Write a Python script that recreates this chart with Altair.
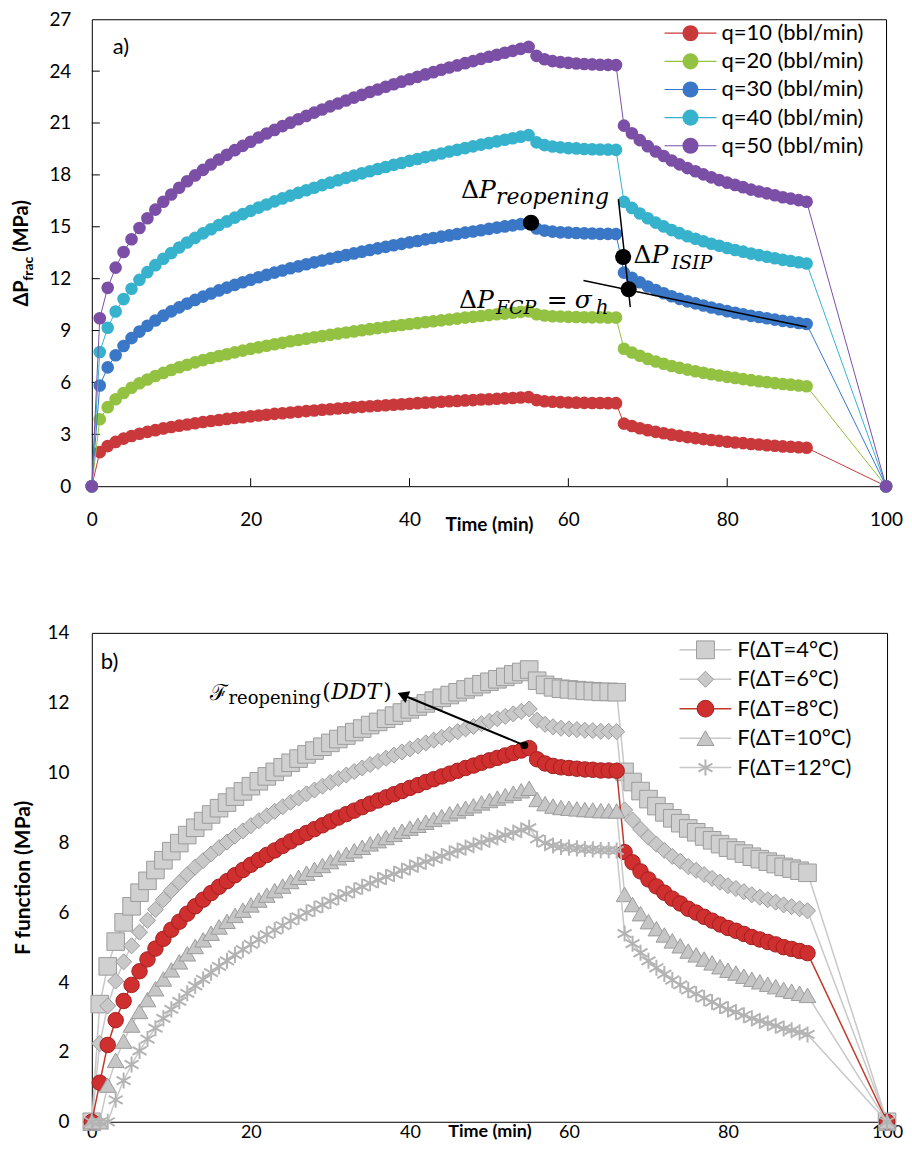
import altair as alt
import pandas as pd

# ---------------- data ----------------
TIME = [0] + list(range(1, 91)) + [100]

Q_LABELS = ["q=10 (bbl/min)", "q=20 (bbl/min)", "q=30 (bbl/min)", "q=40 (bbl/min)", "q=50 (bbl/min)"]
Q_COLORS = ["#c9393b", "#93c141", "#3a77c6", "#36b2cc", "#7b4fa6"]

DP_Q10 = [0,
    1.97, 2.32, 2.56, 2.75, 2.90, 3.03, 3.14, 3.24, 3.34, 3.42,
    3.50, 3.57, 3.64, 3.71, 3.77, 3.83, 3.89, 3.94, 3.99, 4.04,
    4.09, 4.13, 4.18, 4.22, 4.26, 4.30, 4.34, 4.38, 4.42, 4.45,
    4.49, 4.52, 4.56, 4.59, 4.62, 4.65, 4.68, 4.71, 4.74, 4.77,
    4.80, 4.83, 4.85, 4.88, 4.91, 4.93, 4.96, 4.98, 5.01, 5.03,
    5.06, 5.08, 5.10, 5.13, 5.15,
    4.98, 4.91, 4.88, 4.86, 4.84, 4.83, 4.82, 4.81, 4.81, 4.80, 4.80,
    3.62, 3.48, 3.35, 3.24, 3.14, 3.06, 2.98, 2.91, 2.84, 2.78, 2.72, 2.67,
    2.62, 2.57, 2.53, 2.49, 2.44, 2.41, 2.37, 2.34, 2.30, 2.28, 2.25, 2.22,
    0]
DP_Q20 = [0,
    3.87, 4.57, 5.03, 5.39, 5.69, 5.95, 6.17, 6.37, 6.55, 6.72,
    6.88, 7.02, 7.16, 7.29, 7.41, 7.53, 7.63, 7.74, 7.84, 7.94,
    8.03, 8.12, 8.21, 8.29, 8.38, 8.45, 8.53, 8.61, 8.68, 8.75,
    8.82, 8.89, 8.95, 9.02, 9.08, 9.14, 9.20, 9.26, 9.32, 9.38,
    9.43, 9.49, 9.54, 9.59, 9.64, 9.69, 9.75, 9.79, 9.84, 9.89,
    9.94, 9.98, 10.03, 10.08, 10.12,
    9.94, 9.87, 9.83, 9.81, 9.79, 9.78, 9.77, 9.76, 9.76, 9.75, 9.75,
    7.95, 7.73, 7.54, 7.36, 7.21, 7.08, 6.95, 6.84, 6.74, 6.65, 6.56, 6.47,
    6.40, 6.32, 6.26, 6.19, 6.13, 6.07, 6.02, 5.96, 5.91, 5.87, 5.82, 5.78,
    0]
DP_Q30 = [0,
    5.82, 6.87, 7.57, 8.11, 8.56, 8.94, 9.28, 9.58, 9.86, 10.11,
    10.34, 10.56, 10.77, 10.96, 11.14, 11.32, 11.48, 11.64, 11.79, 11.94,
    12.08, 12.22, 12.35, 12.47, 12.60, 12.71, 12.83, 12.94, 13.05, 13.16,
    13.26, 13.36, 13.46, 13.56, 13.66, 13.75, 13.84, 13.93, 14.01, 14.10,
    14.18, 14.27, 14.35, 14.43, 14.50, 14.58, 14.66, 14.73, 14.80, 14.88,
    14.95, 15.02, 15.08, 15.15, 15.22,
    14.90, 14.78, 14.72, 14.68, 14.66, 14.64, 14.62, 14.61, 14.59, 14.59, 14.58,
    12.35, 12.05, 11.79, 11.55, 11.34, 11.16, 10.98, 10.83, 10.69, 10.57, 10.45, 10.33,
    10.23, 10.12, 10.03, 9.94, 9.85, 9.78, 9.71, 9.63, 9.56, 9.50, 9.44, 9.38,
    0]
DP_Q40 = [0,
    7.76, 9.16, 10.10, 10.82, 11.42, 11.93, 12.38, 12.78, 13.15, 13.48,
    13.80, 14.09, 14.36, 14.62, 14.86, 15.10, 15.31, 15.53, 15.73, 15.92,
    16.11, 16.29, 16.47, 16.64, 16.80, 16.96, 17.11, 17.26, 17.41, 17.55,
    17.69, 17.83, 17.96, 18.09, 18.21, 18.34, 18.46, 18.58, 18.69, 18.81,
    18.92, 19.03, 19.13, 19.24, 19.35, 19.45, 19.55, 19.65, 19.75, 19.84,
    19.94, 20.03, 20.12, 20.21, 20.30,
    19.88, 19.72, 19.64, 19.59, 19.55, 19.53, 19.50, 19.48, 19.47, 19.46, 19.45,
    16.45, 16.09, 15.77, 15.49, 15.24, 15.02, 14.81, 14.63, 14.45, 14.31, 14.16, 14.02,
    13.90, 13.77, 13.66, 13.56, 13.45, 13.36, 13.27, 13.18, 13.09, 13.02, 12.95, 12.88,
    0]
DP_Q50 = [0,
    9.71, 11.47, 12.64, 13.54, 14.28, 14.93, 15.49, 15.99, 16.45, 16.87,
    17.26, 17.63, 17.97, 18.29, 18.60, 18.89, 19.16, 19.43, 19.68, 19.92,
    20.16, 20.39, 20.60, 20.82, 21.02, 21.22, 21.41, 21.60, 21.78, 21.96,
    22.13, 22.30, 22.47, 22.63, 22.79, 22.94, 23.10, 23.24, 23.39, 23.53,
    23.67, 23.81, 23.94, 24.08, 24.21, 24.33, 24.46, 24.58, 24.71, 24.83,
    24.95, 25.06, 25.17, 25.29, 25.40,
    24.88, 24.69, 24.58, 24.52, 24.48, 24.44, 24.41, 24.39, 24.37, 24.36, 24.35,
    20.85, 20.41, 20.01, 19.66, 19.35, 19.09, 18.83, 18.61, 18.39, 18.21, 18.03, 17.86,
    17.70, 17.55, 17.42, 17.29, 17.15, 17.04, 16.93, 16.82, 16.71, 16.63, 16.54, 16.45,
    0]
DP_SERIES = [DP_Q10, DP_Q20, DP_Q30, DP_Q40, DP_Q50]

F_LABELS = ["F(ΔT=4°C)", "F(ΔT=6°C)", "F(ΔT=8°C)", "F(ΔT=10°C)", "F(ΔT=12°C)"]
F_DT4 = [0,
    3.37, 4.45, 5.16, 5.71, 6.17, 6.56, 6.90, 7.21, 7.49, 7.75,
    7.98, 8.21, 8.42, 8.61, 8.80, 8.98, 9.14, 9.31, 9.46, 9.61,
    9.75, 9.89, 10.02, 10.15, 10.28, 10.40, 10.52, 10.63, 10.74, 10.85,
    10.96, 11.06, 11.16, 11.26, 11.36, 11.45, 11.54, 11.63, 11.72, 11.81,
    11.89, 11.98, 12.06, 12.14, 12.22, 12.30, 12.38, 12.45, 12.53, 12.60,
    12.67, 12.74, 12.81, 12.88, 12.95,
    12.63, 12.51, 12.44, 12.40, 12.38, 12.36, 12.34, 12.33, 12.31, 12.31, 12.30,
    10.02, 9.73, 9.47, 9.24, 9.04, 8.86, 8.69, 8.55, 8.40, 8.29, 8.17, 8.06,
    7.95, 7.85, 7.77, 7.68, 7.59, 7.52, 7.45, 7.38, 7.30, 7.25, 7.19, 7.13,
    0]
F_DT6 = [0,
    2.24, 3.32, 4.03, 4.58, 5.04, 5.43, 5.77, 6.08, 6.36, 6.62,
    6.85, 7.08, 7.29, 7.48, 7.67, 7.85, 8.01, 8.18, 8.33, 8.48,
    8.62, 8.76, 8.89, 9.02, 9.15, 9.27, 9.39, 9.50, 9.61, 9.72,
    9.83, 9.93, 10.03, 10.13, 10.23, 10.32, 10.41, 10.50, 10.59, 10.68,
    10.76, 10.85, 10.93, 11.01, 11.09, 11.17, 11.25, 11.32, 11.40, 11.47,
    11.54, 11.61, 11.68, 11.75, 11.82,
    11.50, 11.38, 11.31, 11.27, 11.25, 11.23, 11.21, 11.20, 11.18, 11.18, 11.17,
    8.93, 8.64, 8.38, 8.15, 7.95, 7.77, 7.60, 7.46, 7.31, 7.20, 7.08, 6.97,
    6.86, 6.76, 6.68, 6.59, 6.50, 6.43, 6.36, 6.29, 6.21, 6.16, 6.10, 6.04,
    0]
F_DT8 = [0,
    1.12, 2.20, 2.91, 3.46, 3.92, 4.31, 4.65, 4.96, 5.24, 5.50,
    5.73, 5.96, 6.17, 6.36, 6.55, 6.73, 6.89, 7.06, 7.21, 7.36,
    7.50, 7.64, 7.77, 7.90, 8.03, 8.15, 8.27, 8.38, 8.49, 8.60,
    8.71, 8.81, 8.91, 9.01, 9.11, 9.20, 9.29, 9.38, 9.47, 9.56,
    9.64, 9.73, 9.81, 9.89, 9.97, 10.05, 10.13, 10.20, 10.28, 10.35,
    10.42, 10.49, 10.56, 10.63, 10.70,
    10.38, 10.26, 10.19, 10.15, 10.13, 10.11, 10.09, 10.08, 10.06, 10.06, 10.05,
    7.72, 7.43, 7.17, 6.94, 6.74, 6.56, 6.39, 6.25, 6.10, 5.99, 5.87, 5.76,
    5.65, 5.55, 5.47, 5.38, 5.29, 5.22, 5.15, 5.08, 5.00, 4.95, 4.89, 4.83,
    0]
F_DT10 = [0,
    0.00, 1.05, 1.76, 2.31, 2.77, 3.16, 3.50, 3.81, 4.09, 4.35,
    4.58, 4.81, 5.02, 5.21, 5.40, 5.58, 5.74, 5.91, 6.06, 6.21,
    6.35, 6.49, 6.62, 6.75, 6.88, 7.00, 7.12, 7.23, 7.34, 7.45,
    7.56, 7.66, 7.76, 7.86, 7.96, 8.05, 8.14, 8.23, 8.32, 8.41,
    8.49, 8.58, 8.66, 8.74, 8.82, 8.90, 8.98, 9.05, 9.13, 9.20,
    9.27, 9.34, 9.41, 9.48, 9.55,
    9.23, 9.11, 9.04, 9.00, 8.98, 8.96, 8.94, 8.93, 8.91, 8.91, 8.90,
    6.51, 6.22, 5.96, 5.73, 5.53, 5.35, 5.18, 5.04, 4.89, 4.78, 4.66, 4.55,
    4.44, 4.34, 4.26, 4.17, 4.08, 4.01, 3.94, 3.87, 3.79, 3.74, 3.68, 3.62,
    0]
F_DT12 = [0,
    0.00, 0.00, 0.63, 1.18, 1.64, 2.03, 2.37, 2.68, 2.96, 3.22,
    3.45, 3.68, 3.89, 4.08, 4.27, 4.45, 4.61, 4.78, 4.93, 5.08,
    5.22, 5.36, 5.49, 5.62, 5.75, 5.87, 5.99, 6.10, 6.21, 6.32,
    6.43, 6.53, 6.63, 6.73, 6.83, 6.92, 7.01, 7.10, 7.19, 7.28,
    7.36, 7.45, 7.53, 7.61, 7.69, 7.77, 7.85, 7.92, 8.00, 8.07,
    8.14, 8.21, 8.28, 8.35, 8.42,
    8.10, 7.98, 7.91, 7.87, 7.85, 7.83, 7.81, 7.80, 7.78, 7.78, 7.77,
    5.39, 5.10, 4.84, 4.61, 4.41, 4.23, 4.06, 3.92, 3.77, 3.66, 3.54, 3.43,
    3.32, 3.22, 3.14, 3.05, 2.96, 2.89, 2.82, 2.75, 2.67, 2.62, 2.56, 2.50,
    0]
F_SERIES = [F_DT4, F_DT6, F_DT8, F_DT10, F_DT12]

Y_TICKS_TOP = [0, 3, 6, 9, 12, 15, 18, 21, 24, 27]
Y_TICKS_BOTTOM = [0, 2, 4, 6, 8, 10, 12, 14]
X_TICKS = [0, 20, 40, 60, 80, 100]
INNER_Y_TICKS = [3, 6, 9, 12, 15, 18, 21, 24]
INNER_X_TICKS = [20, 40, 60, 80]

# annotation points of panel a): reopening, ISIP, FCP
MARK_T = [55.3, 66.9, 67.6]
MARK_V = [15.23, 13.25, 11.39]
GUIDE_ID = ["isip", "isip", "fcp", "fcp"]
GUIDE_T = [66.3, 67.8, 61.9, 90.0]
GUIDE_V = [16.6, 10.35, 11.9, 9.2]

# annotation of panel b)
DDT_T = [54.4]
DDT_V = [10.78]
ARROW_T = [54.4, 39.1]
ARROW_V = [10.78, 12.22]

# ---------------- styles ----------------
W1, H1 = 796, 468
W2, H2 = 797, 490
F_LINE = ["#c8c8c8", "#c8c8c8", "#c0392b", "#c8c8c8", "#c8c8c8"]
F_FILL = ["#d0d0d0", "#c9c9c9", "#cf2f2f", "#c6c6c6", "#c0c0c0"]
F_EDGE = ["#9c9c9c", "#9c9c9c", "#a31f1f", "#9c9c9c", "#b3b3b3"]
ASTERISK = "M0,-1L0,1M-0.87,-0.5L0.87,0.5M-0.87,0.5L0.87,-0.5"
F_SHAPE = ["square", "diamond", "circle", "triangle-up", ASTERISK]
F_SIZE = [310, 260, 240, 280, 260]
F_SW = [1, 1, 1, 1, 2]
SER = "DejaVu Serif"


def label(text, x, y, size, font="Lato", style="normal", weight="normal",
          align="left", baseline="alphabetic", angle=0):
    return alt.Chart(pd.DataFrame({"s": [text]})).mark_text(
        font=font, fontSize=size, fontStyle=style, fontWeight=weight,
        align=align, baseline=baseline, angle=angle, color="black"
    ).encode(text="s:N", x=alt.value(x), y=alt.value(y))


def x_enc(label_size, label_pad, title_y):
    return alt.X("t:Q", scale=alt.Scale(domain=[0, 100], nice=False, zero=False),
                 axis=alt.Axis(values=X_TICKS, title="Time (min)", grid=False, domain=False,
                               ticks=False, tickSize=0, labelFont="Lato", labelFontSize=label_size,
                               labelColor="black", labelPadding=label_pad, labelFlush=False,
                               titleFont="Lato", titleFontSize=label_size, titleFontWeight="bold",
                               titleColor="black", titleBaseline="middle", titleY=title_y))


# ---------------- panel a ----------------
xa = x_enc(19, 24, 38)
ya = alt.Y("v:Q", scale=alt.Scale(domain=[0, 27], nice=False),
           axis=alt.Axis(values=Y_TICKS_TOP, title=None, grid=False, domain=False, ticks=False,
                         tickSize=0, labelFont="Lato", labelFontSize=19, labelColor="black",
                         labelPadding=21, labelFlush=False))

layers_a = []
layers_a.append(alt.Chart(pd.DataFrame({"v": INNER_Y_TICKS})).mark_rule(color="black").encode(
    y=alt.Y("v:Q"), x=alt.value(0), x2=alt.value(8)))
layers_a.append(alt.Chart(pd.DataFrame({"t": INNER_X_TICKS})).mark_rule(color="black").encode(
    x=alt.X("t:Q"), y=alt.value(H1), y2=alt.value(H1 - 8)))
for name, col, vals in zip(Q_LABELS, Q_COLORS, DP_SERIES):
    df = pd.DataFrame({"t": TIME, "v": vals})
    layers_a.append(alt.Chart(df).mark_line(color=col, strokeWidth=1).encode(x=xa, y=ya))
    layers_a.append(alt.Chart(df).mark_point(filled=True, size=160, opacity=1, color=col).encode(
        x=alt.X("t:Q"), y=alt.Y("v:Q")))

guide_df = pd.DataFrame({"id": GUIDE_ID, "t": GUIDE_T, "v": GUIDE_V})
layers_a.append(alt.Chart(guide_df).mark_line(color="black", strokeWidth=1.5).encode(
    x="t:Q", y="v:Q", detail="id:N"))
layers_a.append(alt.Chart(pd.DataFrame({"t": MARK_T, "v": MARK_V})).mark_point(
    filled=True, size=260, color="black", opacity=1).encode(x="t:Q", y="v:Q"))

layers_a += [
    label("Δ", 370, 179, 25, font=SER),
    label("P", 388, 179, 25, font=SER, style="italic"),
    label("reopening", 405, 185, 22, font=SER, style="italic"),
    label("Δ", 543, 244, 25, font=SER),
    label("P", 561, 244, 25, font=SER, style="italic"),
    label("ISIP", 581, 250, 19, font=SER, style="italic"),
    label("Δ", 368, 289, 25, font=SER),
    label("P", 386, 289, 25, font=SER, style="italic"),
    label("FCP", 405, 295, 19, font=SER, style="italic"),
    label("=", 456, 289, 25, font=SER),
    label("σ", 484, 289, 25, font=SER, style="italic"),
    label("h", 505, 295, 20, font=SER, style="italic"),
    label("a)", 21, 28, 22, baseline="middle"),
    # y title with subscript
    label("ΔP", -64, 288, 20, weight="bold", angle=270),
    label("frac", -59, 262, 14, weight="bold", angle=270),
    label("(MPa)", -64, 233, 20, weight="bold", angle=270),
]
for i, (name, col) in enumerate(zip(Q_LABELS, Q_COLORS)):
    yy = 14 + 28.2 * i
    d = pd.DataFrame({"s": [name]})
    layers_a.append(alt.Chart(d).mark_rule(color=col, strokeWidth=1.2).encode(
        x=alt.value(574), x2=alt.value(626), y=alt.value(yy)))
    layers_a.append(alt.Chart(d).mark_point(filled=True, size=260, opacity=1, color=col).encode(
        x=alt.value(600), y=alt.value(yy)))
    layers_a.append(label(name, 631, yy, 22, baseline="middle"))

panel_a = alt.layer(*layers_a).properties(width=W1, height=H1)

# ---------------- panel b ----------------
xb = x_enc(18, 2, 10)
yb = alt.Y("v:Q", scale=alt.Scale(domain=[0, 14], nice=False),
           axis=alt.Axis(values=Y_TICKS_BOTTOM, title="F  function (MPa)", grid=False, domain=False,
                         ticks=False, tickSize=0, labelFont="Lato", labelFontSize=19,
                         labelColor="black", labelPadding=23, labelFlush=False,
                         titleFont="Lato", titleFontSize=21, titleFontWeight="bold",
                         titleColor="black", titlePadding=13))

layers_b = []
for i, vals in enumerate(F_SERIES):
    df = pd.DataFrame({"t": TIME, "v": vals})
    layers_b.append(alt.Chart(df).mark_line(color=F_LINE[i], strokeWidth=1.5).encode(x=xb, y=yb))
    layers_b.append(alt.Chart(df).mark_point(
        filled=True, opacity=1, fill=F_FILL[i], stroke=F_EDGE[i], strokeWidth=F_SW[i],
        shape=F_SHAPE[i], size=F_SIZE[i]).encode(x=alt.X("t:Q"), y=alt.Y("v:Q")))

layers_b.append(alt.Chart(pd.DataFrame({"t": ARROW_T, "v": ARROW_V})).mark_line(
    color="black", strokeWidth=2).encode(x="t:Q", y="v:Q"))
layers_b.append(alt.Chart(pd.DataFrame({"t": ARROW_T[1:], "v": ARROW_V[1:]})).mark_point(
    shape="triangle-left", angle=22, filled=True, size=160, color="black", opacity=1).encode(
    x="t:Q", y="v:Q"))
layers_b.append(alt.Chart(pd.DataFrame({"t": DDT_T, "v": DDT_V})).mark_point(
    filled=True, size=60, color="black", opacity=1).encode(x="t:Q", y="v:Q"))

layers_b += [
    label("ℱ", 136, 67, 22, font=SER, align="right"),
    label("reopening", 137, 71, 18, font=SER),
    label("(", 231, 66, 22, font=SER),
    label("DDT", 240, 66, 22, font=SER, style="italic"),
    label(")", 292, 66, 22, font=SER),
    label("b)", 9, 29, 22, baseline="middle"),
]
LEG_SHAPE_SIZE = [320, 260, 280, 290, 260]
for i, name in enumerate(F_LABELS):
    yy = 17 + 29.5 * i
    d = pd.DataFrame({"s": [name]})
    layers_b.append(alt.Chart(d).mark_rule(color=F_LINE[i], strokeWidth=1.5).encode(
        x=alt.value(589), x2=alt.value(641), y=alt.value(yy)))
    layers_b.append(alt.Chart(d).mark_point(
        filled=True, opacity=1, fill=F_FILL[i], stroke=F_EDGE[i], strokeWidth=F_SW[i],
        shape=F_SHAPE[i], size=LEG_SHAPE_SIZE[i]).encode(x=alt.value(615), y=alt.value(yy)))
    layers_b.append(label(name, 647, yy, 22, baseline="middle"))

panel_b = alt.layer(*layers_b).properties(width=W2, height=H2)

chart = alt.vconcat(panel_a, panel_b, spacing=88).properties(
    padding={"left": 3, "top": 0, "right": 0, "bottom": 0}
).configure(font="Lato").configure_view(stroke="black", strokeWidth=1)

chart.save("out.html", embed_options={"renderer": "svg", "actions": False})
